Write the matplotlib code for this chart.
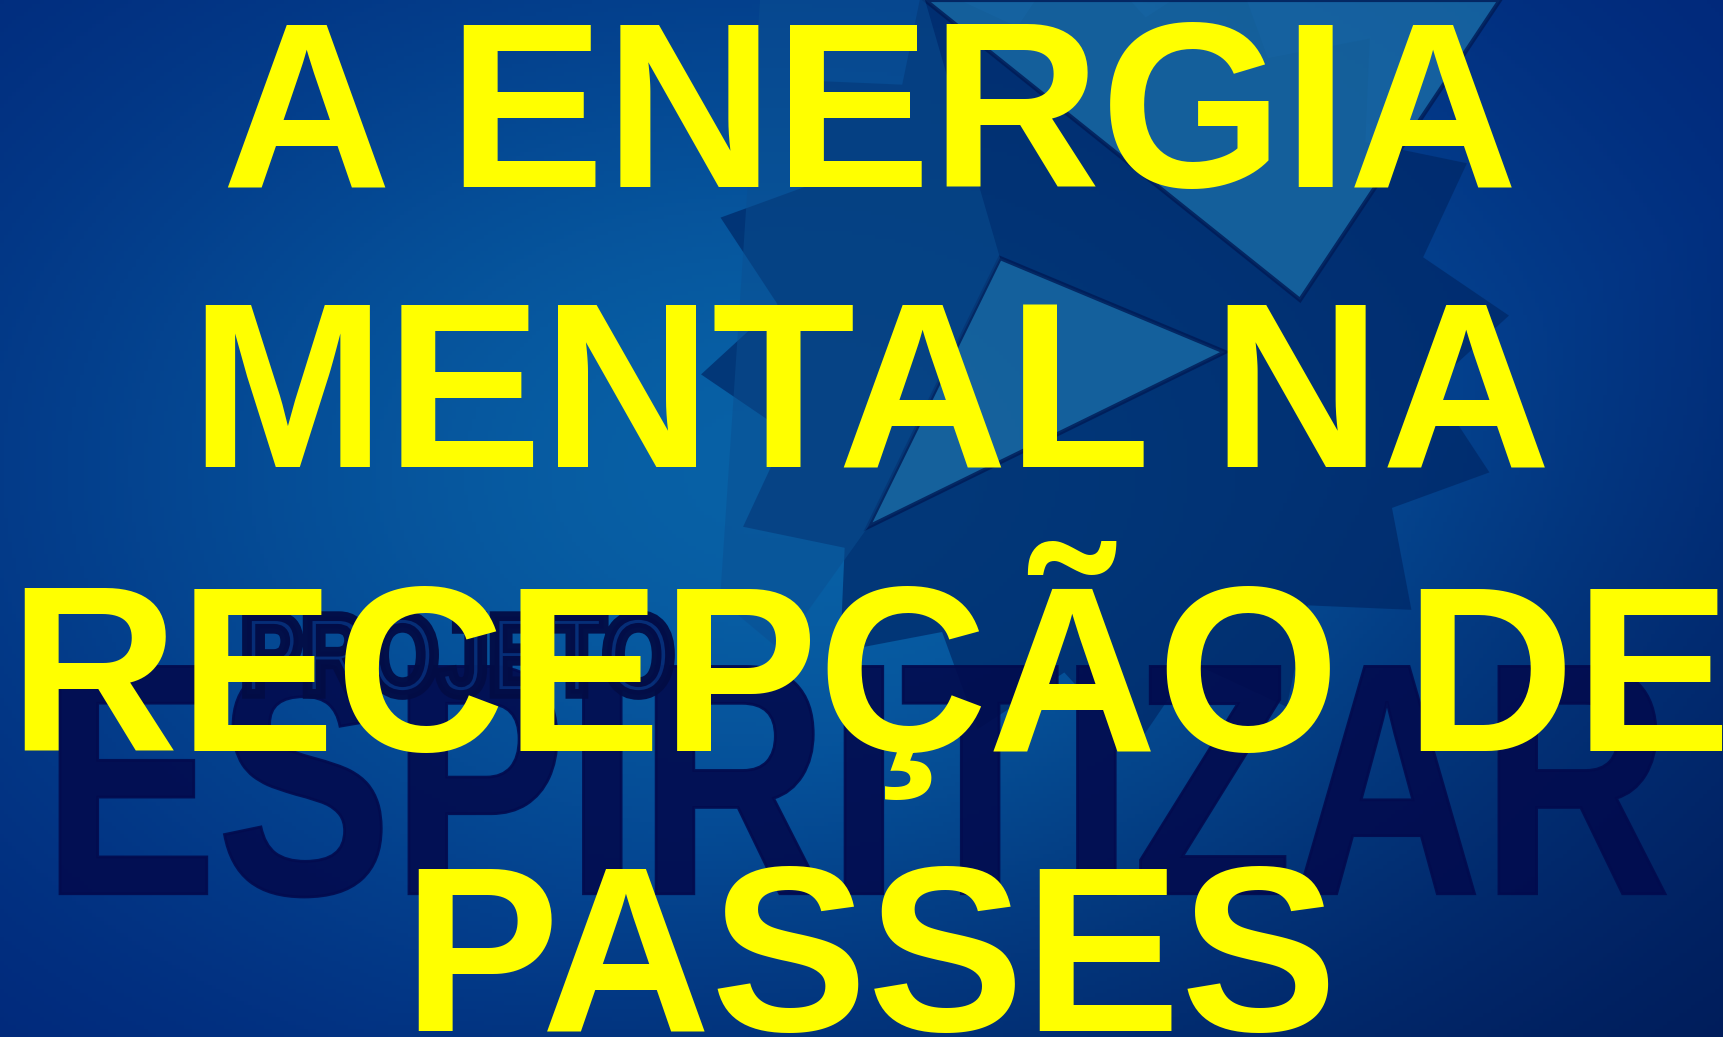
import numpy as np
import matplotlib.pyplot as plt
from matplotlib.patches import Polygon, PathPatch
from matplotlib.textpath import TextPath
from matplotlib.font_manager import FontProperties
from matplotlib.transforms import Affine2D

# Poster "A ENERGIA MENTAL NA RECEPÇÃO DE PASSES"
title_lines = ['A ENERGIA', 'MENTAL NA', 'RECEPÇÃO DE', 'PASSES']
title_baselines = [187, 468, 751, 1031]
logo_big = 'ESPIRITIZAR'
logo_small = 'PROJETO'

W, H = 1723, 1037
fig = plt.figure(figsize=(W / 100, H / 100), dpi=100)
ax = fig.add_axes([0, 0, 1, 1])
ax.set_xlim(0, W)
ax.set_ylim(H, 0)
ax.axis('off')

# background: blue radial gradient, lighter towards the middle-left
yy, xx = np.mgrid[0:H:4, 0:W:4]
w = np.exp(-(((xx - 780) / 820.0) ** 2 + ((yy - 470) / 560.0) ** 2))
dark = np.array([0.0, 0.13, 0.46])
light = np.array([0.03, 0.38, 0.65])
img = dark + (light - dark) * w[..., None]
# darker lower right corner
shade = np.clip((xx / W + yy / H - 1.2) / 0.8, 0, 1)
img = img * (1 - 0.25 * shade[..., None])
ax.imshow(img, extent=[0, W, H, 0], aspect='auto', zorder=0)

# sunburst star of the logo
cx, cy = 1105, 345
n = 16
ang = np.linspace(0, 2 * np.pi, 2 * n, endpoint=False) + 0.32
rad = np.where(np.arange(2 * n) % 2 == 0, 405, 330)
star = np.column_stack([cx + rad * np.cos(ang), cy + rad * np.sin(ang)])
ax.add_patch(Polygon(star, closed=True, fc='#002766', ec='none', alpha=0.7, zorder=1))

# lighter facets inside the star
facets = [
    [(925, 0), (1500, 0), (1300, 300)],
    [(1000, 258), (1225, 352), (868, 527)],
    [(760, 0), (925, 0), (1000, 258), (868, 527), (780, 650), (720, 600)],
]
for pts in facets[:2]:
    ax.add_patch(Polygon(pts, closed=True, fc='#1a6ca6', ec='#001a55', lw=3, alpha=0.8, zorder=2))
ax.add_patch(Polygon(facets[2], closed=True, fc='#0a4f92', ec='none', alpha=0.5, zorder=2))

# logo text behind the title
fp_bold = FontProperties(family='Liberation Sans', weight='bold')


def fit_text(s, x0, y0, x1, y1, **kw):
    tp = TextPath((0, 0), s, size=100, prop=fp_bold)
    ext = tp.get_extents()
    sx = (x1 - x0) / ext.width
    sy = (y1 - y0) / ext.height
    tr = Affine2D().translate(-ext.x0, -ext.y1).scale(sx, -sy).translate(x0, y0)
    ax.add_patch(PathPatch(tr.transform_path(tp), **kw))


fit_text(logo_big, 60, 663, 1665, 897, fc='#020b4e', ec='#020b4e', lw=2, alpha=0.9, zorder=3)
fit_text(logo_small, 247, 615, 670, 695, fc='#072c76', ec='#020c45', lw=7, alpha=0.95, zorder=3)

# big yellow title
for line, yb in zip(title_lines, title_baselines):
    ax.text(870, yb, line, ha='center', va='baseline', color='#ffff00',
            fontsize=169, fontweight='bold', family=['Liberation Sans', 'DejaVu Sans'], zorder=5)

fig.savefig('out.png', dpi=100, facecolor='#002a80')
